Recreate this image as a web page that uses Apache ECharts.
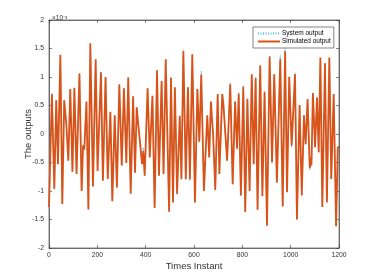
<!DOCTYPE html>
<html><head><meta charset="utf-8">
<script src="https://cdn.jsdelivr.net/npm/echarts@6/dist/echarts.min.js"></script>
<style>html,body{margin:0;padding:0;background:#fff}#c{width:374px;height:280px}</style>
</head><body><div id="c"></div>
<script>
// Time instants of the turning points
var simX = [0,12,22,30,37,47,55,63,72,80,88,97,105,114,126,135,141,146,155,163,171,182,193,201,215,223,234,243,254,262,272,281,291,301,310,320,328,338,348,356,363,368,372,378,385,390,396,408,417,428,437,447,455,466,474,483,497,505,513,521,530,541,548,556,566,575,583,593,604,614,622,630,641,655,663,670,674,679,688,698,705,717,722,737,750,760,770,778,785,794,804,812,821,830,839,847,855,863,874,883,892,902,913,923,932,943,957,967,977,985,994,1004,1018,1026,1037,1046,1055,1062,1070,1079,1083,1086,1092,1101,1109,1116,1123,1131,1142,1150,1160,1168,1178,1188,1195,1200];
// Simulated output (x1e-3)
var simY = [-1.28,0.7,-0.96,0.59,-0.53,1.39,-1.23,0.59,0.15,-0.47,0.79,-0.66,0.81,-0.7,1.06,-1.0,-0.2,-0.27,0.57,-1.32,1.59,-0.92,1.31,-0.65,1.08,-0.82,1.0,-0.79,0.39,-1.18,0.33,-0.94,0.87,-0.55,0.8,-0.51,0.99,-1.05,0.66,-0.68,0.47,0.22,0.25,-0.2,-0.53,-0.3,-0.73,0.8,-0.41,0.67,-1.3,1.12,-0.73,0.93,-0.7,1.31,-1.36,0.99,-1.2,0.82,-1.05,0.32,-0.79,1.46,-0.79,0.82,-0.8,1.4,-1.2,0.79,-0.13,1.04,-1.0,0.33,-0.41,0.57,0.3,0.0,-0.98,0.7,-0.7,0.7,0.5,-0.47,0.87,-0.88,0.57,-0.26,0.71,-1.08,0.83,-1.37,0.62,-1.0,1.05,-0.53,0.98,-1.33,1.2,-1.09,0.74,-1.61,1.36,-0.5,1.05,-0.85,1.31,-1.27,1.45,-1.02,1.0,-0.2,1.05,-1.5,0.51,-1.08,0.33,-0.18,0.61,-0.6,-0.41,-0.55,0.72,-0.23,0.64,-0.32,1.34,-1.28,1.24,-1.2,1.34,-0.79,0.7,-1.62,-0.23,-0.23];
// System output (x1e-3)
var sysY = [-1.31,0.71,-0.98,0.59,-0.53,1.39,-1.23,0.59,0.15,-0.47,0.79,-0.66,0.81,-0.7,1.06,-1.0,-0.22,-0.28,0.57,-1.33,1.59,-0.92,1.31,-0.66,1.1,-0.82,1.0,-0.79,0.39,-1.18,0.33,-0.94,0.88,-0.55,0.8,-0.51,0.99,-1.05,0.66,-0.68,0.47,0.23,0.26,-0.27,-0.53,-0.24,-0.73,0.8,-0.41,0.67,-1.3,1.12,-0.73,0.93,-0.7,1.31,-1.38,0.99,-1.2,0.82,-1.05,0.32,-0.8,1.46,-0.81,0.82,-0.82,1.4,-1.2,0.79,-0.15,1.1,-1.0,0.33,-0.41,0.57,0.3,0.0,-0.98,0.7,-0.7,0.7,0.55,-0.47,0.9,-0.88,0.57,-0.27,0.73,-1.08,0.86,-1.37,0.62,-1.0,1.05,-0.53,1.0,-1.33,1.2,-1.09,0.74,-1.61,1.37,-0.5,1.05,-0.86,1.38,-1.27,1.53,-1.02,1.01,-0.23,1.08,-1.5,0.51,-1.08,0.33,-0.18,0.61,-0.63,-0.41,-0.57,0.72,-0.23,0.64,-0.32,1.34,-1.28,1.24,-1.2,1.34,-0.79,0.7,-1.62,-0.23,-0.23];
var xTicks = [0,200,400,600,800,1000,1200];
var yTicks = [-2,-1.5,-1,-0.5,0,0.5,1,1.5,2];

var chart = echarts.init(document.getElementById('c'));
function pairs(xs, ys){ return xs.map(function(x,i){ return [x, ys[i]]; }); }
var axisCol = '#333333';
var font = 'Liberation Sans, Arial, sans-serif';
chart.setOption({
  animation:false,
  backgroundColor:'#fff',
  title:{text:'×10⁻³', left:47, top:10, textStyle:{fontSize:6.5, fontWeight:'normal', color:axisCol, fontFamily:font}},
  grid:{left:49, right:35, top:20, bottom:32, show:true, borderColor:axisCol, borderWidth:0.6},
  legend:{
    left:253, top:27, orient:'vertical', itemGap:1, itemWidth:22, itemHeight:6,
    backgroundColor:'#fff', borderColor:axisCol, borderWidth:0.6, padding:[3,3,3,4],
    itemStyle:{opacity:0},
    textStyle:{fontSize:6.5, color:'#000', fontFamily:font, padding:[0,0,0,-3]},
    data:['System output','Simulated output']
  },
  xAxis:[{
    type:'value', min:0, max:1200, interval:200,
    name:'Times Instant', nameLocation:'middle', nameGap:13, nameMoveOverlap:false,
    nameTextStyle:{fontSize:9.5, color:axisCol, fontFamily:font},
    axisLine:{onZero:false, lineStyle:{color:axisCol, width:0.6}},
    axisTick:{inside:true, length:3, lineStyle:{color:axisCol, width:0.6}},
    axisLabel:{fontSize:6.8, color:axisCol, margin:4, fontFamily:font, formatter:function(v){return String(v);}},
    splitLine:{show:false}
  },{
    type:'value', position:'top', min:0, max:1200, interval:200,
    axisLine:{onZero:false, lineStyle:{color:axisCol, width:0.6}},
    axisTick:{inside:true, length:3, lineStyle:{color:axisCol, width:0.6}},
    axisLabel:{show:false}, splitLine:{show:false}
  }],
  yAxis:[{
    type:'value', min:-2, max:2, interval:0.5,
    name:'The outputs', nameLocation:'middle', nameGap:16, nameMoveOverlap:false,
    nameTextStyle:{fontSize:9.5, color:axisCol, fontFamily:font},
    axisLine:{show:true, onZero:false, lineStyle:{color:axisCol, width:0.6}},
    axisTick:{show:true, inside:true, length:3, lineStyle:{color:axisCol, width:0.6}},
    axisLabel:{fontSize:6.8, color:axisCol, margin:5, fontFamily:font},
    splitLine:{show:false}
  },{
    type:'value', position:'right', min:-2, max:2, interval:0.5,
    axisLine:{show:true, onZero:false, lineStyle:{color:axisCol, width:0.6}},
    axisTick:{show:true, inside:true, length:3, lineStyle:{color:axisCol, width:0.6}},
    axisLabel:{show:false}, splitLine:{show:false}
  }],
  series:[{
    name:'System output', type:'line', symbol:'none',
    data:pairs(simX, sysY), z:1,
    lineStyle:{color:'#4DBEEE', width:1.2, type:[1,1.5]}, itemStyle:{color:'#4DBEEE'}
  },{
    name:'Simulated output', type:'line', symbol:'none',
    data:pairs(simX, simY), z:3,
    lineStyle:{color:'#D95319', width:1.8}, itemStyle:{color:'#D95319'}
  }]
});
</script></body></html>
